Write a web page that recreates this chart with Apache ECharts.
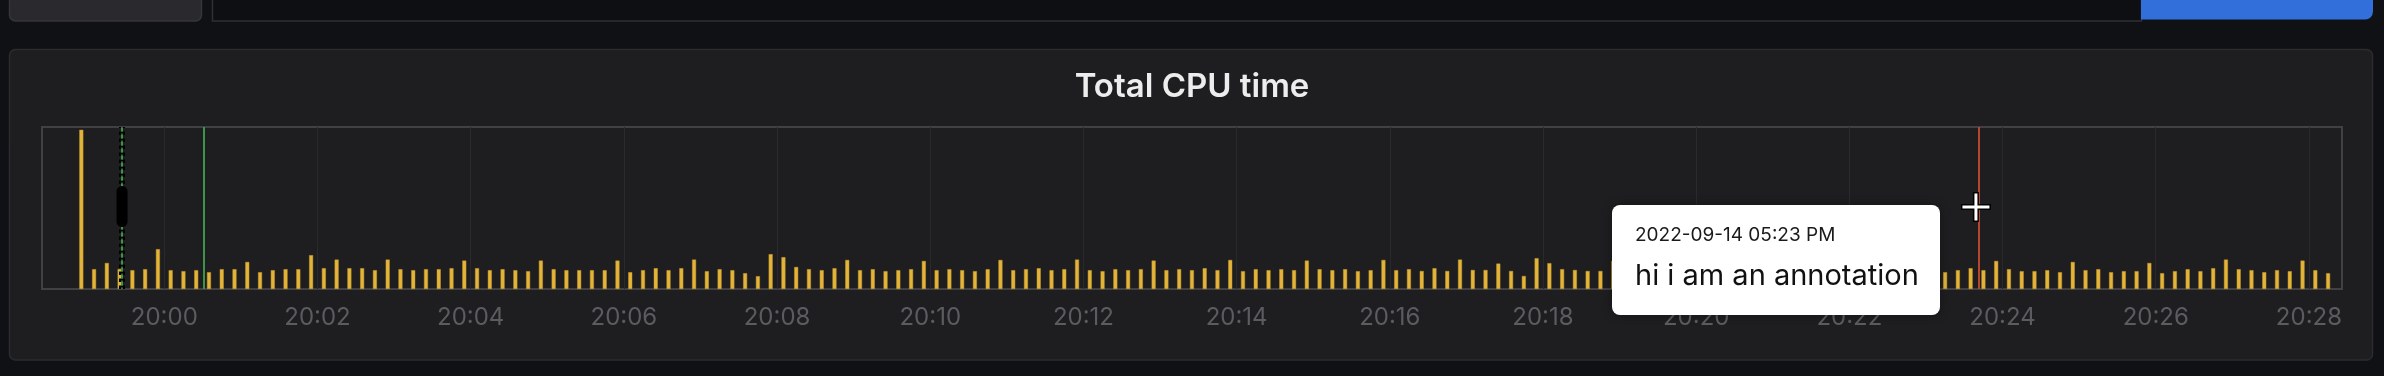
<!DOCTYPE html>
<html><head><meta charset="utf-8">
<script src="https://cdn.jsdelivr.net/npm/echarts@6/dist/echarts.min.js"></script>
<style>html,body{margin:0;padding:0;background:#101115;}#c{width:2384px;height:376px;}</style>
</head><body><div id="c"></div>
<script>
// ---- data ----
const chartTitle = 'Total CPU time';
const firstBarTime = Date.UTC(2022, 8, 14, 19, 58, 55);
const barStepMs = 10000;
const axisMin = Date.UTC(2022, 8, 14, 19, 58, 24, 200);
const axisMax = Date.UTC(2022, 8, 14, 20, 28, 25, 900);
const tickLabels = ['20:00','20:02','20:04','20:06','20:08','20:10','20:12','20:14','20:16','20:18','20:20','20:22','20:24','20:26','20:28'];
// CPU time per 10 s bucket
const cpuMin1 = [7.95,0.99,1.30,1.00,0.94,0.99,1.99,0.94,0.89,0.94,0.84,0.99,0.99,1.35,0.84,0.94,0.99,0.99,1.69,1.04,1.47,1.04,1.04,0.94,1.47,0.99,0.94,0.99,0.99,1.04];
const cpuMin2 = [1.42,1.04,0.94,0.99,0.94,0.89,1.42,0.99,0.94,0.94,0.94,0.94,1.42,0.84,0.94,1.04,0.94,1.04,1.47,0.89,0.99,0.94,0.79,0.64,1.74,1.59,1.10,0.99,0.94,1.04];
const cpuMin3 = [1.45,0.94,0.99,0.89,0.94,0.99,1.40,0.94,0.99,0.94,0.89,0.99,1.45,0.94,0.99,1.04,0.94,0.99,1.47,0.94,0.89,0.99,0.94,0.99,1.42,0.94,0.99,0.94,1.04,0.94];
const cpuMin4 = [1.45,0.89,0.99,0.94,0.99,0.94,1.42,0.99,0.94,0.99,0.89,0.94,1.45,0.94,0.99,0.90,1.04,0.90,1.47,0.95,0.95,1.27,0.90,0.65,1.54,1.29,0.99,0.95,0.90,0.90];
const cpuMin5 = [1.40,0.94,0.99,0.94,0.89,0.99,1.42,0.94,0.99,1.04,0.94,0.89,1.45,0.99,0.94,0.94,0.99,0.89,1.40,0.94,0.99,0.94,1.04,0.94,1.42,0.94,0.84,0.94,1.04,0.94];
const cpuMin6 = [1.40,0.99,0.89,0.89,0.94,0.84,1.35,0.94,0.99,0.84,0.89,0.89,1.30,0.79,0.89,0.99,0.89,1.04,1.47,0.99,0.94,0.84,0.94,0.89,1.42,0.94,0.79];
const cpuValues = [].concat(cpuMin1, cpuMin2, cpuMin3, cpuMin4, cpuMin5, cpuMin6);
const yMax = 8.09;
const regionAnnotationTime = Date.UTC(2022, 8, 14, 19, 59, 26, 900);
const greenAnnotationTime = Date.UTC(2022, 8, 14, 20, 0, 30, 600);
const redAnnotationTime = Date.UTC(2022, 8, 14, 20, 23, 41, 500);
const tooltipDate = '2022-09-14 05:23 PM';
const tooltipText = 'hi i am an annotation';

const barData = cpuValues.map((v, i) => [firstBarTime + i * barStepMs, v]);
const tickValues = tickLabels.map(s => Date.UTC(2022, 8, 14, +s.slice(0, 2), +s.slice(3, 5)));
const pad = n => (n < 10 ? '0' : '') + n;

const gridLineStyle = {color: '#2a2a2d', width: 1, type: 'solid'};
const annotationLines = [
  {xAxis: greenAnnotationTime, lineStyle: {color: '#3b9448', width: 2, type: 'solid'}},
  {xAxis: regionAnnotationTime, lineStyle: {color: '#3b9448', width: 2, type: 'solid'}},
  {xAxis: regionAnnotationTime, lineStyle: {color: '#000000', width: 6, type: [3.5, 3.5]}},
  {xAxis: regionAnnotationTime, lineStyle: {color: '#3b9448', width: 1.5, type: [1.5, 2]}},
  {xAxis: redAnnotationTime, lineStyle: {color: '#b8452d', width: 2, type: 'solid'}}
];

const chart = echarts.init(document.getElementById('c'), null, {renderer: 'canvas'});
chart.setOption({
  animation: false,
  backgroundColor: '#101115',
  grid: {left: 42, top: 127, width: 2300, height: 162, show: true, borderColor: '#414145', borderWidth: 2, backgroundColor: 'transparent', z: 1},
  xAxis: {
    type: 'value', min: axisMin, max: axisMax, scale: true,
    axisLine: {show: false}, axisTick: {show: false},
    splitLine: {show: false},
    axisLabel: {
      customValues: tickValues,
      color: '#5b5b60', fontSize: 24, fontFamily: 'Inter', margin: 17,
      formatter: v => { const d = new Date(v); return pad(d.getUTCHours()) + ':' + pad(d.getUTCMinutes()); }
    }
  },
  yAxis: {type: 'value', min: 0, max: yMax, show: false, splitLine: {show: false}},
  series: [{
    type: 'bar', data: barData, barWidth: 4,
    itemStyle: {color: '#e4b43a', borderColor: '#c79a2c', borderWidth: 0.5},
    markLine: {
      silent: true, symbol: ['none', 'none'], label: {show: false},
      data: tickValues.map(t => ({xAxis: t, lineStyle: gridLineStyle})).concat(annotationLines)
    }
  }]
});

const regionX = chart.convertToPixel({xAxisIndex: 0}, regionAnnotationTime);
const redX = chart.convertToPixel({xAxisIndex: 0}, redAnnotationTime);
const cx = redX - 3, cy = 207;

chart.setOption({
  graphic: [
    // top toolbar
    {type: 'rect', z: -10, shape: {x: 9.5, y: -10, width: 192, height: 31, r: 6}, style: {fill: '#2a2a2e', stroke: '#36363a', lineWidth: 1.5}},
    {type: 'rect', z: -10, shape: {x: 212.5, y: -5, width: 1929, height: 26}, style: {fill: '#0e0f13', stroke: '#2f2f34', lineWidth: 1.5}},
    {type: 'rect', z: -10, shape: {x: 2141, y: -10, width: 232, height: 29.5, r: [0, 0, 8, 0]}, style: {fill: '#336fdb'}},
    // panel
    {type: 'rect', z: -10, shape: {x: 9.5, y: 49.5, width: 2363, height: 310.5, r: 6}, style: {fill: '#1e1e21', stroke: '#2c2c30', lineWidth: 1.5}},
    {type: 'text', z: 10, x: 1192, y: 87.5, style: {text: chartTitle, fill: '#ededed', font: '600 33px Inter', textAlign: 'center', textVerticalAlign: 'middle'}},
    // region marker handle
    {type: 'rect', z: 50, shape: {x: regionX - 5.5, y: 186, width: 11, height: 41, r: 5.5}, style: {fill: '#000000'}},
    // annotation tooltip
    {type: 'rect', z: 100, shape: {x: 1612, y: 205, width: 328, height: 110, r: 8}, style: {fill: '#ffffff', shadowBlur: 10, shadowColor: 'rgba(0,0,0,0.35)'}},
    {type: 'text', z: 101, x: 1635, y: 235, style: {text: tooltipDate, fill: '#1a1a1a', font: '19px Inter', textVerticalAlign: 'middle'}},
    {type: 'text', z: 101, x: 1635, y: 276, style: {text: tooltipText, fill: '#111111', font: '29px Inter', textVerticalAlign: 'middle'}},
    // mouse crosshair cursor
    {type: 'rect', z: 110, shape: {x: cx - 15, y: cy - 3, width: 30, height: 6}, style: {fill: '#000'}},
    {type: 'rect', z: 110, shape: {x: cx - 3, y: cy - 15, width: 6, height: 30}, style: {fill: '#000'}},
    {type: 'rect', z: 111, shape: {x: cx - 13.5, y: cy - 1.5, width: 27, height: 3}, style: {fill: '#fff'}},
    {type: 'rect', z: 111, shape: {x: cx - 1.5, y: cy - 13.5, width: 3, height: 27}, style: {fill: '#fff'}}
  ]
});
</script>
</body></html>
